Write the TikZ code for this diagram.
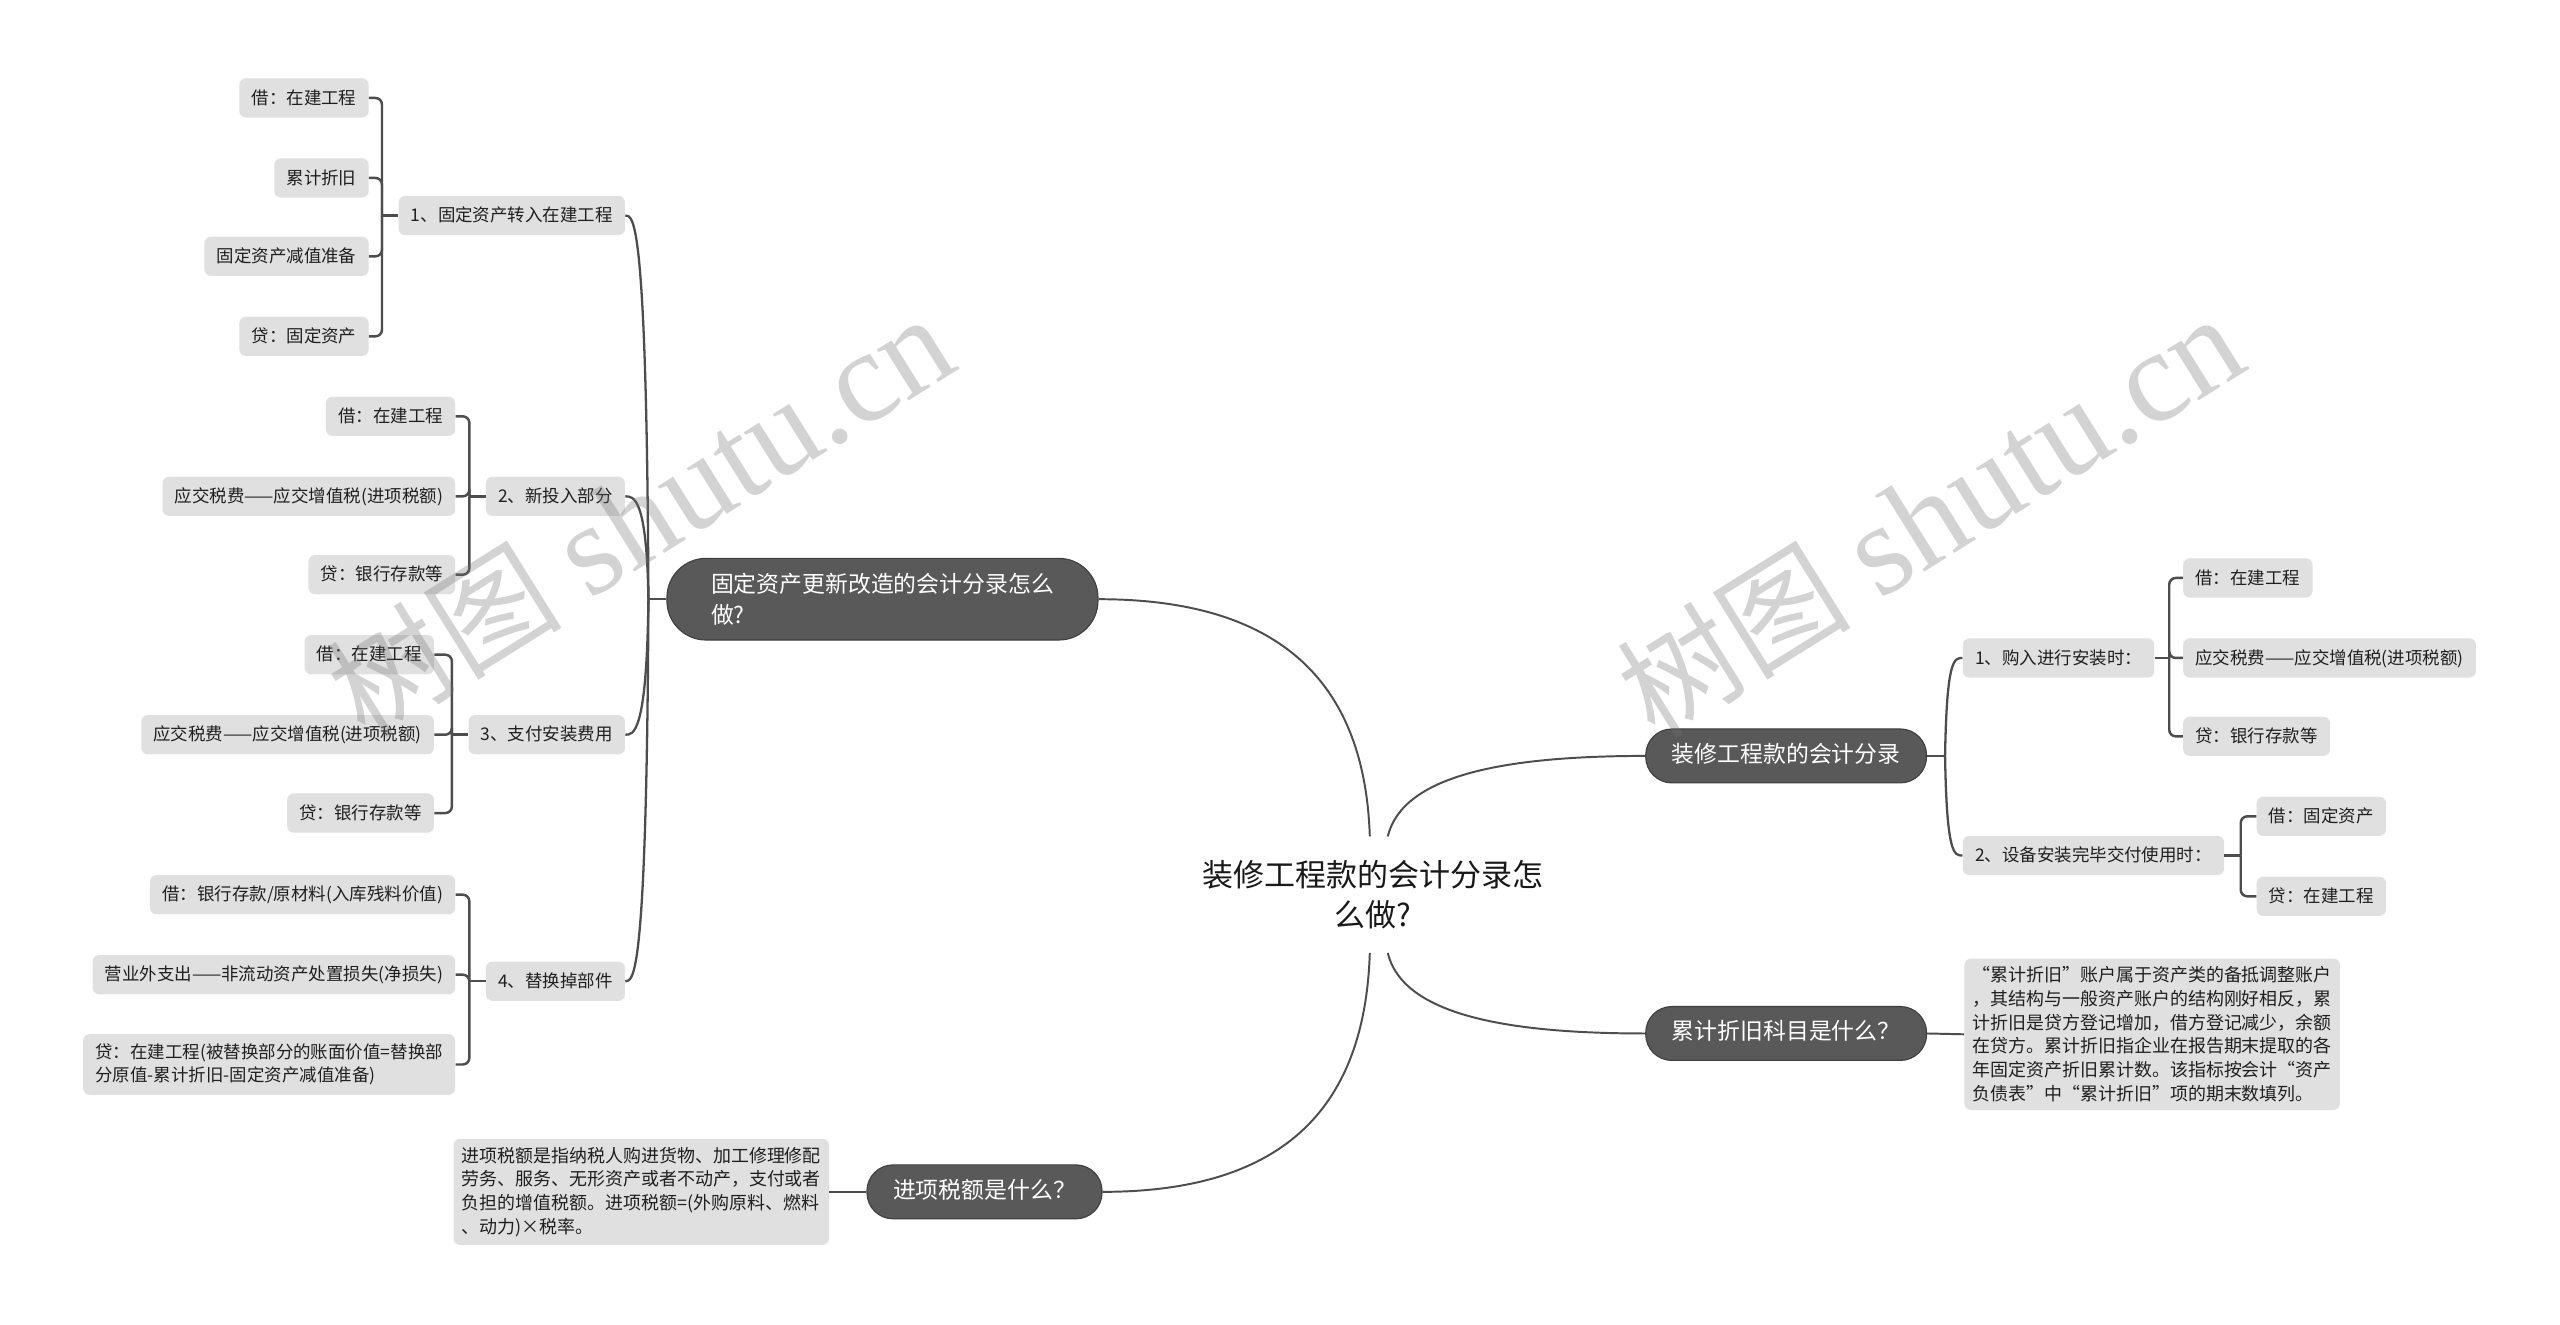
\documentclass[tikz,border=0pt]{standalone}
\usepackage{fontspec}
\setmainfont{Noto Sans CJK SC}
\newfontfamily\wmlatin{Liberation Serif}
\usetikzlibrary{calc}
\definecolor{darkbox}{HTML}{595959}
\definecolor{darkedge}{HTML}{404040}
\definecolor{lightbox}{HTML}{E0E0E0}
\definecolor{linec}{HTML}{4D4D4D}
\begin{document}
\begin{tikzpicture}[x=1pt,y=-1pt,
  leaf/.style={fill=lightbox, rounded corners=4pt, font=\fontsize{10.7}{14}\selectfont, text=black!88, inner xsep=7.5pt, inner ysep=0pt, minimum height=24pt, text height=0.88em, text depth=0.12em},
  leafml/.style={fill=lightbox, rounded corners=4pt, font=\fontsize{10.7}{14}\selectfont, text=black!88, inner xsep=7.5pt, inner ysep=6pt, align=left},
  para/.style={fill=lightbox, rounded corners=4pt, font=\fontsize{11}{14.5}\selectfont, text=black!88, inner sep=5pt, align=left},
  topic/.style={fill=darkbox, draw=darkedge, line width=0.7pt, rounded corners=16pt, text=white, font=\fontsize{14}{19}\selectfont, inner xsep=16pt, inner ysep=0pt, minimum height=33pt, text height=0.88em, text depth=0.12em},
  topicml/.style={fill=darkbox, draw=darkedge, line width=0.7pt, rounded corners=24pt, text=white, font=\fontsize{14}{19}\selectfont, inner xsep=27pt, inner ysep=4pt, minimum height=50pt, align=left},
  conn/.style={draw=linec, line width=1.2pt},
  lvl/.style={draw=linec, line width=1.4pt},
  brk/.style={draw=linec, line width=1.5pt, rounded corners=4pt},
  wmark/.style={rotate=32, text=black!55, text opacity=0.31, inner sep=0pt, font=\fontsize{80}{80}\selectfont},
]
\fill[white] (0,0) rectangle (1568,811);
\useasboundingbox (0,0) rectangle (1568,811);

% root
\node[font=\fontsize{19}{25}\selectfont, text=black!90, align=center, minimum height=71pt, inner sep=0pt] (root) at (841,548) {装修工程款的会计分录怎\\么做?};

% main topics
\node[topicml] (A) at (540.5,367) {固定资产更新改造的会计分录怎么\\做?};
\node[topic] (B) at (1094,463) {装修工程款的会计分录};
\node[topic] (C) at (1094,633) {累计折旧科目是什么？};
\node[topic] (D) at (603,730) {进项税额是什么？};

% left level 2
\node[leaf, anchor=east] (g1) at (383,132) {1、固定资产转入在建工程};
\node[leaf, anchor=east] (g2) at (383,304) {2、新投入部分};
\node[leaf, anchor=east] (g3) at (383,450) {3、支付安装费用};
\node[leaf, anchor=east] (g4) at (383,601) {4、替换掉部件};

% left level 3
\node[leaf, anchor=east] (g1a) at (226,60) {借：在建工程};
\node[leaf, anchor=east] (g1b) at (226,109) {累计折旧};
\node[leaf, anchor=east] (g1c) at (226,157) {固定资产减值准备};
\node[leaf, anchor=east] (g1d) at (226,206) {贷：固定资产};

\node[leaf, anchor=east] (g2a) at (279,255) {借：在建工程};
\node[leaf, anchor=east] (g2b) at (279,304) {应交税费——应交增值税(进项税额)};
\node[leaf, anchor=east] (g2c) at (279,352) {贷：银行存款等};

\node[leaf, anchor=east] (g3a) at (266,401) {借：在建工程};
\node[leaf, anchor=east] (g3b) at (266,450) {应交税费——应交增值税(进项税额)};
\node[leaf, anchor=east] (g3c) at (266,498) {贷：银行存款等};

\node[leaf, anchor=east] (g4a) at (279,548) {借：银行存款/原材料(入库残料价值)};
\node[leaf, anchor=east] (g4b) at (279,597) {营业外支出——非流动资产处置损失(净损失)};
\node[leafml, anchor=east] (g4c) at (279,652) {贷：在建工程(被替换部分的账面价值=替换部\\分原值-累计折旧-固定资产减值准备)};

% right level 2
\node[leaf, anchor=west] (h1) at (1202,403) {1、购入进行安装时：};
\node[leaf, anchor=west] (h2) at (1202,524) {2、设备安装完毕交付使用时：};

\node[leaf, anchor=west] (h1a) at (1337,354) {借：在建工程};
\node[leaf, anchor=west] (h1b) at (1337,403) {应交税费——应交增值税(进项税额)};
\node[leaf, anchor=west] (h1c) at (1337,451) {贷：银行存款等};

\node[leaf, anchor=west] (h2a) at (1382,500) {借：固定资产};
\node[leaf, anchor=west] (h2b) at (1382,549) {贷：在建工程};

% paragraphs
\node[para, anchor=west] (Cp) at (1203,633.5) {“累计折旧”账户属于资产类的备抵调整账户\\，其结构与一般资产账户的结构刚好相反，累\\计折旧是贷方登记增加，借方登记减少，余额\\在贷方。累计折旧指企业在报告期末提取的各\\年固定资产折旧累计数。该指标按会计“资产\\负债表”中“累计折旧”项的期末数填列。};
\node[para, anchor=east] (Dp) at (508,730) {进项税额是指纳税人购进货物、加工修理修配\\劳务、服务、无形资产或者不动产，支付或者\\负担的增值税额。进项税额=(外购原料、燃料\\、动力)×税率。};

% root connectors
\draw[conn] ([xshift=-2pt]root.north) .. controls +(-3,-92) and +(114,0) .. (A.east);
\draw[conn] ([xshift=-2pt]root.south) .. controls +(-3,92) and +(114,0) .. (D.east);
\draw[conn] ([xshift=9pt]root.north) .. controls +(9,-37) and +(-88,0) .. (B.west);
\draw[conn] ([xshift=9pt]root.south) .. controls +(9,37) and +(-88,0) .. (C.west);

% A to level 2
\coordinate (sA) at ([xshift=-11pt]A.west);
\draw[lvl] (A.west) -- (sA);
\foreach \g in {g1,g2,g3,g4}{
  \draw[lvl] (sA) .. controls ($(sA |- \g.east)+(-1,0)$) and ($(\g.east)+(5,0)$) .. (\g.east);
}

% B to level 2
\coordinate (sB) at ([xshift=11pt]B.east);
\draw[lvl] (B.east) -- (sB);
\foreach \h in {h1,h2}{
  \draw[lvl] (sB) .. controls ($(sB |- \h.east)+(1,0)$) and ($(\h.west)+(-5,0)$) .. (\h.west);
}

% C, D to paragraphs
\draw[conn] (C.east) -- (Cp.west);
\draw[conn] (D.west) -- (Dp.east);

% brackets left
\coordinate (j1) at ([xshift=-10pt]g1.west);
\draw[brk] (g1.west) -- (j1);
\foreach \c in {g1a,g1b,g1c,g1d}{\draw[brk] (\c.east) -| (j1);}
\coordinate (j2) at ([xshift=-10pt]g2.west);
\draw[brk] (g2.west) -- (j2);
\foreach \c in {g2a,g2b,g2c}{\draw[brk] (\c.east) -| (j2);}
\coordinate (j3) at ([xshift=-10pt]g3.west);
\draw[brk] (g3.west) -- (j3);
\foreach \c in {g3a,g3b,g3c}{\draw[brk] (\c.east) -| (j3);}
\coordinate (j4) at ([xshift=-10pt]g4.west);
\draw[brk] (g4.west) -- (j4);
\foreach \c in {g4a,g4b,g4c}{\draw[brk] (\c.east) -| (j4);}

% brackets right
\coordinate (k1) at ([xshift=9pt]h1.east);
\draw[brk] (h1.east) -- (k1);
\foreach \c in {h1a,h1b,h1c}{\draw[brk] (\c.west) -| (k1);}
\coordinate (k2) at ([xshift=10pt]h2.east);
\draw[brk] (h2.east) -- (k2);
\foreach \c in {h2a,h2b}{\draw[brk] (\c.west) -| (k2);}

% watermarks
\node[wmark] (wm1) at (392,316) {{\fontsize{72}{72}\selectfont 树图}\ {\wmlatin shutu.cn}};
\node[wmark] (wm2) at (1182,316) {{\fontsize{72}{72}\selectfont 树图}\ {\wmlatin shutu.cn}};
\end{tikzpicture}
\end{document}
